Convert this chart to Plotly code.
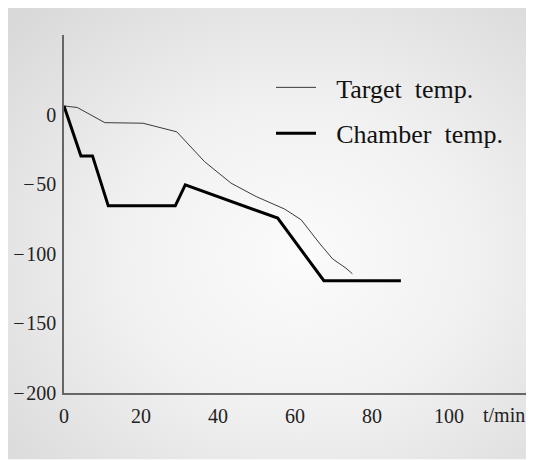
import base64
import plotly.graph_objects as go

# Time in minutes, temperatures in degC
target_t = [0, 3.45, 10.6, 20.5, 29.3, 36.5, 43.4, 49.9, 57.3, 61.6, 66.3, 69.8, 73.2, 74.9]
target_v = [6.3, 5.2, -5.7, -6.1, -12.3, -33.7, -49.2, -58.8, -67.8, -75.5, -92.2, -103.7, -110.2, -114.3]

chamber_t = [0, 4.4, 7.4, 11.5, 28.9, 31.5, 55.5, 67.5, 87.5]
chamber_v = [6.3, -29.6, -29.6, -65.5, -65.5, -50.4, -74.3, -119.3, -119.3]

x_ticks = [0, 20, 40, 60, 80, 100]
y_ticks = [0, -50, -100, -150, -200]
y_ticktext = ["0", "\u2212\u200a50", "\u2212\u200a100", "\u2212\u200a150", "\u2212\u200a200"]

gap = "\u00a0\u00a0\u200a"
series_names = [gap + "Target\u00a0\u00a0temp.", gap + "Chamber\u00a0\u00a0temp."]

# the page adds an 8px body margin; the figure is sized to the visible area
OFF = 8
W, H = 526 - OFF, 460 - OFF
L, R, T = 64 - OFF, 0, 35 - OFF
B = H - (393.4 - OFF)
pw, ph = W - L - R, H - T - B

svg = (
    '<svg xmlns="http://www.w3.org/2000/svg" width="518" height="452" viewBox="0 0 518 452" preserveAspectRatio="none">'
    '<defs><radialGradient id="g" cx="0.56" cy="0.55" r="0.75" gradientUnits="objectBoundingBox">'
    '<stop offset="0" stop-color="#fbfbfb"/><stop offset="0.45" stop-color="#f1f1f1"/>'
    '<stop offset="1" stop-color="#d9d9d9"/></radialGradient></defs>'
    '<rect x="0" y="0" width="518" height="452" fill="url(#g)"/></svg>'
)
bg_src = "data:image/svg+xml;base64," + base64.b64encode(svg.encode()).decode()

fig = go.Figure()
fig.add_trace(go.Scatter(x=target_t, y=target_v, mode="lines", name=series_names[0],
                         line=dict(color="#3a3a3a", width=1), legendgroup="a", cliponaxis=False))
fig.add_trace(go.Scatter(x=chamber_t, y=chamber_v, mode="lines", name=series_names[1],
                         line=dict(color="#000000", width=3), legendgroup="b", cliponaxis=False))

serif = "Liberation Serif"
fig.update_layout(
    width=W, height=H,
    margin=dict(l=L, r=R, t=T, b=B, autoexpand=False),
    paper_bgcolor="white",
    plot_bgcolor="rgba(0,0,0,0)",
    font=dict(family=serif, size=20, color="#222222"),
    showlegend=True,
    legend=dict(x=207 / pw, xanchor="left", y=1 - 29 / ph, yanchor="top",
                bgcolor="rgba(0,0,0,0)", font=dict(family=serif, size=26, color="#111111"),
                tracegroupgap=9, itemwidth=40),
    images=[dict(source=bg_src, xref="paper", yref="paper",
                 x=-L / pw, y=1 + T / ph, sizex=W / pw, sizey=H / ph,
                 xanchor="left", yanchor="top", sizing="stretch", layer="below")],
    xaxis=dict(range=[0, 120], tickvals=x_ticks, showgrid=False, zeroline=False,
               showline=True, linecolor="#666666", linewidth=1.5, ticks="",
               ticklabelstandoff=4, tickfont=dict(family=serif, size=20), automargin=False),
    yaxis=dict(range=[-200, 57.3], tickvals=y_ticks, ticktext=y_ticktext, showgrid=False,
               zeroline=False, showline=True, linecolor="#666666", linewidth=1.5, ticks="",
               ticklabelstandoff=2, tickfont=dict(family=serif, size=20), automargin=False),
    annotations=[dict(text="t/min", x=114.3, xref="x", y=-(415 - 393.4) / ph, yref="paper",
                      showarrow=False, xanchor="center", yanchor="middle",
                      font=dict(family=serif, size=20, color="#222222"))],
)

fig.write_html("out.html")
